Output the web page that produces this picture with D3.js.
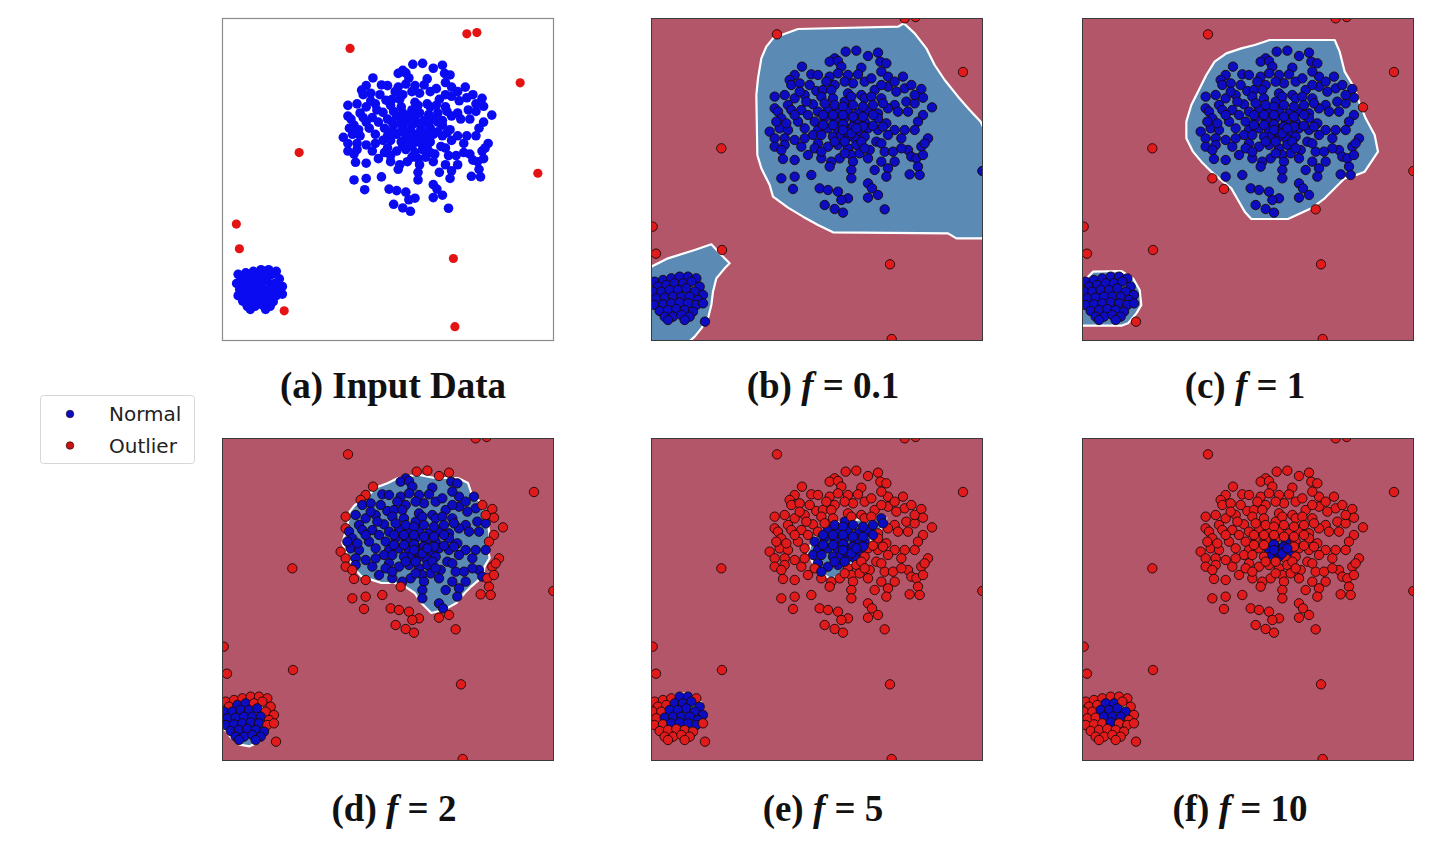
<!DOCTYPE html>
<html><head><meta charset="utf-8">
<script src="https://cdn.jsdelivr.net/npm/d3@7/dist/d3.min.js"></script>
<style>body{margin:0;background:#fff}svg{display:block}</style>
</head><body>
<svg id="chart" width="1445" height="864"></svg>
<script>
// ---- data (arbitrary feature units, y up) ----
const bigCluster = [
[593,890],[625,893],[660,877],[690,887],[560,870],
[545,860],[570,862],[580,845],[697,860],[715,855],[640,842],[462,845],[490,822],[510,820],
[440,820],[425,805],[545,815],[570,825],[600,820],[630,822],[720,815],[765,815],[700,830],[560,790],
[430,790],[455,795],[505,772],[525,775],[550,775],[600,765],[640,760],[680,775],[720,785],[770,780],[820,778],[745,770],[615,795],
[380,755],[410,760],[440,750],[470,760],[520,755],[555,750],[590,740],[610,755],[650,750],[670,755],[700,750],[740,730],[775,740],[800,735],[825,752],[852,723],[420,730],[495,732],[380,720],
[390,710],[430,715],[460,715],[480,700],[510,710],[540,720],[570,710],[600,715],[630,705],[660,710],[690,705],[720,720],[750,710],[780,710],[825,700],[450,680],[500,680],[530,690],[560,685],[590,690],[620,680],[650,680],[690,690],[715,675],[440,700],
[365,650],[395,660],[420,655],[470,660],[510,655],[540,660],[570,655],[600,660],[630,650],[660,660],[690,655],[740,655],[770,655],[380,630],[410,630],[440,625],[495,640],[555,635],[620,630],[650,635],[840,630],
[380,605],[410,610],[460,605],[510,615],[540,605],[570,610],[600,600],[625,610],[685,620],[665,595],[710,590],[735,590],[780,595],[820,605],[830,615],[400,595],
[405,568],[440,565],[520,570],[550,560],[575,570],[610,580],[615,560],[660,570],[700,560],[740,560],[790,575],[805,570],[825,580],[545,545],[680,535],[720,540],[810,545],[610,535],
[400,510],[440,515],[490,520],[610,510],[715,515],[785,522],[815,520],[660,495],[672,480],
[435,478],[515,480],[540,475],[570,470],[690,460],[600,450],[660,452],[580,445],
[530,430],[560,418],[585,407],[710,417],
[530,735],[560,730],[585,725],[615,730],[645,725],[675,730],[705,735],[525,700],[555,700],[585,700],[615,695],[645,695],[675,700],
[525,670],[555,670],[585,672],[615,665],[645,665],[675,668],[705,665],[520,640],[580,640],[600,635],[640,620],[560,620],[590,620],
[500,600],[470,630],[480,580],[520,590],[635,585],[650,600],[590,585],[455,770],[485,790],[535,800],[590,800],[650,800],[670,810],
[740,800],[790,790],[700,790],[800,760],[475,740],[400,690],[415,675],[385,680],[810,680],[800,655],[760,630],[720,640],[700,615],
[760,600],[595,650],[610,645],[625,660],[585,655]
];
const smallCluster = [
[20,200],[45,205],[70,210],[95,215],[120,215],[145,210],[30,185],[55,190],[80,195],[105,195],[130,200],[155,185],
[15,170],[40,170],[65,175],[90,175],[115,180],[140,170],[165,160],[25,150],[50,152],[75,155],[100,155],[125,155],[150,145],
[20,130],[45,132],[70,135],[95,138],[120,135],[145,130],[165,135],[35,112],[60,115],[85,118],[110,115],[135,110],
[50,95],[75,95],[100,100],[125,95],[110,85],[60,85]
];
const outliers = [[387,942],[770,990],[803,994],[945,829],[220,600],[1003,532],[14,365],[24,284],[726,252],[171,80],[731,28]];
const extraOutliers = [[222,295]];   // visible only in the model panels

const titleLetters = ["(a)","(b)","(c)","(d)","(e)","(f)"];
const fValues = [null,"0.1","1","2","5","10"];
const legendLabels = ["Normal","Outlier"];

// inlier regions found by the model for each f (polygons in feature units)
const regionB = [
 [[450,958],[750,965],[768,975],[800,945],[835,900],[860,850],[890,805],[930,755],[965,715],[998,680],[1020,630],[1020,330],[925,330],[900,345],[555,348],[510,370],[465,395],[420,422],[375,455],[365,490],[340,540],[328,580],[325,760],[330,810],[340,870],[355,905],[375,930],[415,945]],
 [[-20,245],[10,245],[60,270],[140,295],[190,312],[215,285],[245,255],[230,240],[205,210],[195,170],[190,130],[180,90],[160,60],[140,35],[125,22],[118,-20],[-20,-20]]
];
const regionC = [
 [[572,925],[767,925],[782,890],[797,830],[827,780],[840,740],[860,690],[887,640],[897,590],[877,560],[857,530],[832,520],[797,510],[767,480],[737,450],[697,420],[627,388],[517,388],[497,410],[477,445],[457,480],[432,500],[397,530],[367,560],[342,590],[322,630],[322,680],[337,730],[357,770],[382,820],[407,860],[442,885],[487,900],[527,910]],
 [[-20,200],[12,200],[42,230],[127,232],[162,210],[182,175],[187,130],[172,105],[147,75],[127,68],[-20,68]]
];
const regionD = [
 [[385,726],[392,770],[408,790],[445,812],[467,841],[507,856],[537,871],[597,881],[647,871],[717,871],[747,856],[757,826],[787,796],[797,766],[807,736],[812,696],[807,656],[812,631],[797,606],[792,576],[757,546],[737,526],[712,496],[677,476],[637,466],[607,496],[587,526],[557,546],[527,556],[487,556],[457,566],[427,576],[405,600],[385,640],[370,676]],
 [[-20,136],[-20,171],[12,171],[42,191],[87,196],[127,186],[142,156],[142,116],[122,81],[92,66],[62,71],[37,91],[17,116],[7,136]]
];
const regionE = [
 [[490,676],[510,706],[540,726],[580,741],[630,746],[690,751],[715,751],[705,726],[680,696],[650,666],[625,636],[605,606],[580,586],[550,566],[520,586],[495,616],[480,646]],
 [[100,226],[132,220],[160,198],[166,160],[152,130],[120,120],[85,126],[52,140],[42,165],[58,195],[80,218]]
];
const regionF = [
 [[562,666],[577,681],[597,691],[622,681],[642,661],[637,636],[607,626],[582,621],[567,631],[559,651]],
 [[47,181],[72,196],[107,198],[137,191],[142,166],[122,146],[97,126],[72,136],[52,156]]
];
const regions = [null, regionB, regionC, regionD, regionE, regionF];

// ---- layout ----
const svg = d3.select("#chart");
const PW = 332, PH = 323;
const colX = [222, 651, 1082];
const rowY = [18, 438];
const titleCX = [393, 823, 1245, 394, 823, 1240];
const titleBase = [398, 821];
const C = {bgRed:"#b4566a", bgBlue:"#5b8ab5", ptBlue:"#0c0cc2", ptRed:"#e11b1b", aBlue:"#0b0bf2", aRed:"#e41414"};

const xModel = d3.scaleLinear().domain([9,1005]).range([0,PW]);
const yModel = d3.scaleLinear().domain([22,991]).range([PH,0]);
const xInput = d3.scaleLinear().domain([-33,1056]).range([0,PW]);
const yInput = d3.scaleLinear().domain([-19,1042]).range([PH,0]);

const defs = svg.append("defs");
const normals = bigCluster.concat(smallCluster);

for (let i = 0; i < 6; i++) {
  const px = colX[i % 3], py = rowY[Math.floor(i / 3)];
  const g = svg.append("g").attr("transform", `translate(${px},${py})`);
  defs.append("clipPath").attr("id", "clip" + i)
    .append("rect").attr("width", PW).attr("height", PH);
  const inner = g.append("g").attr("clip-path", `url(#clip${i})`);

  if (i === 0) {
    inner.append("rect").attr("width", PW).attr("height", PH).attr("fill", "#fff");
    inner.selectAll("circle.n").data(normals).join("circle")
      .attr("cx", d => xInput(d[0])).attr("cy", d => yInput(d[1])).attr("r", 4.8)
      .attr("fill", C.aBlue);
    inner.selectAll("circle.o").data(outliers).join("circle").attr("class","o")
      .attr("cx", d => xInput(d[0])).attr("cy", d => yInput(d[1])).attr("r", 4.6)
      .attr("fill", C.aRed);
    g.append("rect").attr("x", 0.5).attr("y", 0.5).attr("width", PW - 1).attr("height", PH - 1)
      .attr("fill", "none").attr("stroke", "#8a8a8a").attr("stroke-width", 1.2);
  } else {
    const regs = regions[i];
    inner.append("rect").attr("width", PW).attr("height", PH).attr("fill", C.bgRed);
    const line = d3.line().x(d => xModel(d[0])).y(d => yModel(d[1])).curve(d3.curveLinearClosed);
    inner.selectAll("path.reg").data(regs).join("path").attr("class","reg")
      .attr("d", line).attr("fill", C.bgBlue).attr("stroke", "#ffffff")
      .attr("stroke-width", 2.2).attr("stroke-linejoin", "round");
    const all = normals.concat(outliers, extraOutliers).map(p => ({
      p, inside: regs.some(r => d3.polygonContains(r, p))
    }));
    inner.selectAll("circle.pt").data(all).join("circle").attr("class","pt")
      .attr("cx", d => xModel(d.p[0])).attr("cy", d => yModel(d.p[1])).attr("r", 4.7)
      .attr("fill", d => d.inside ? C.ptBlue : C.ptRed)
      .attr("stroke", "#1a0808").attr("stroke-width", 0.9);
    g.append("rect").attr("x", 0.5).attr("y", 0.5).attr("width", PW - 1).attr("height", PH - 1)
      .attr("fill", "none").attr("stroke", "#3a3a3a").attr("stroke-width", 1);
  }

  // title
  const t = svg.append("text").attr("x", titleCX[i]).attr("y", titleBase[Math.floor(i / 3)])
    .attr("text-anchor", "middle").attr("font-family", "'Liberation Serif','Times New Roman',serif")
    .attr("font-weight", "bold").attr("font-size", 37).attr("fill", "#111");
  if (i === 0) {
    t.text(titleLetters[0] + " Input Data");
  } else {
    t.append("tspan").text(titleLetters[i] + " ");
    t.append("tspan").attr("font-style", "italic").text("f");
    t.append("tspan").text(" = " + fValues[i]);
  }
}

// legend
const lg = svg.append("g");
lg.append("rect").attr("x", 40.5).attr("y", 395.5).attr("width", 154).attr("height", 68).attr("rx", 3)
  .attr("fill", "#fff").attr("stroke", "#d6d6d6").attr("stroke-width", 1);
const legendColors = [C.ptBlue, "#c81414"];
legendLabels.forEach((lab, k) => {
  const cy = 414 + k * 31.5;
  lg.append("circle").attr("cx", 70).attr("cy", cy).attr("r", 3.8)
    .attr("fill", legendColors[k]).attr("stroke", "#220000").attr("stroke-width", 0.6);
  lg.append("text").attr("x", 109).attr("y", cy + 7).attr("font-family", "'DejaVu Sans',sans-serif")
    .attr("font-size", 20).attr("fill", "#222").text(lab);
});
</script>
</body></html>
